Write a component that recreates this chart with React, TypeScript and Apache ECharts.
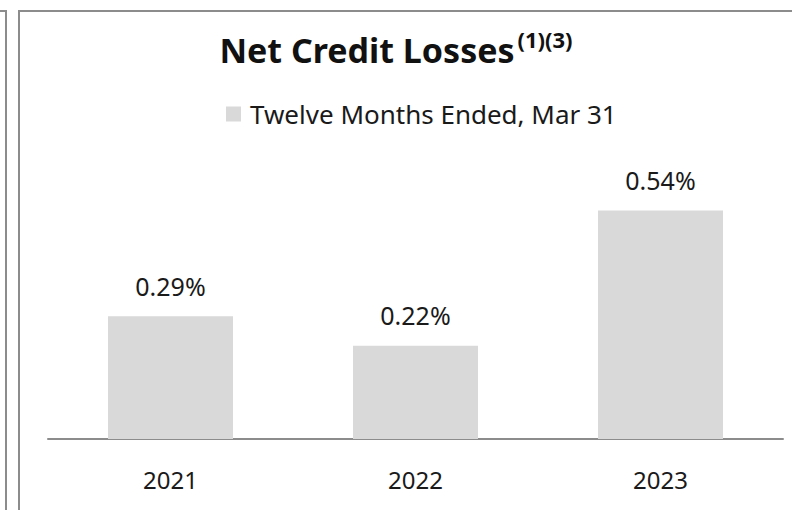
import React, { useEffect, useRef } from "react";
import * as echarts from "echarts";

const categories = ["2021", "2022", "2023"];
const values = [0.29, 0.22, 0.54];
const seriesName = "Twelve Months Ended, Mar 31";
const titleMain = "Net Credit Losses";
const titleSup = "(1)(3)";

export default function App() {
  const ref = useRef<HTMLDivElement>(null);
  useEffect(() => {
    document.body.style.margin = "0";
    const chart = echarts.init(ref.current!, null, { renderer: "svg" });
    const font = "Noto Sans";
    chart.setOption({
      animation: false,
      backgroundColor: "#ffffff",
      title: {
        text: `{a|${titleMain}}{b|${titleSup}}`,
        left: "center",
        top: 23,
        textStyle: {
          rich: {
            a: { fontFamily: font, fontSize: 34, fontWeight: "bold", color: "#111", lineHeight: 44 },
            b: { fontFamily: font, fontSize: 22, fontWeight: "bold", color: "#111", verticalAlign: "top", lineHeight: 30, padding: [0, 0, 12, 3] },
          },
        },
      },
      legend: {
        top: 96,
        left: 221,
        icon: "rect",
        itemWidth: 15,
        itemHeight: 15,
        itemGap: 8,
        textStyle: { fontFamily: font, fontSize: 26, color: "#1a1a1a", padding: [0, 0, 0, 4] },
        data: [seriesName],
      },
      grid: { left: 48, right: 9, top: 185, bottom: 71, containLabel: false },
      xAxis: {
        type: "category",
        data: categories,
        axisLine: { lineStyle: { color: "#8c8c8c", width: 2 } },
        axisTick: { show: false },
        axisLabel: { fontFamily: font, fontSize: 24, color: "#1a1a1a", margin: 28 },
      },
      yAxis: {
        type: "value",
        min: 0,
        max: 0.6,
        show: false,
        splitLine: { show: false },
      },
      series: [
        {
          name: seriesName,
          type: "bar",
          data: values,
          barWidth: 125,
          itemStyle: { color: "#d9d9d9" },
          label: {
            show: true,
            position: "top",
            distance: 18,
            fontFamily: font,
            fontSize: 25,
            color: "#1a1a1a",
            formatter: (p: any) => `${p.value.toFixed(2)}%`,
          },
        },
      ],
      graphic: [
        { type: "polyline", shape: { points: [[0, 11], [6, 11], [6, 510]] }, style: { stroke: "#8c8c8c", lineWidth: 2, fill: null } },
        { type: "polyline", shape: { points: [[19, 510], [19, 11], [792, 11]] }, style: { stroke: "#8c8c8c", lineWidth: 2, fill: null } },
      ],
    });
    return () => chart.dispose();
  }, []);
  return <div ref={ref} style={{ position: "absolute", left: 0, top: 0, width: 792, height: 510 }} />;
}
